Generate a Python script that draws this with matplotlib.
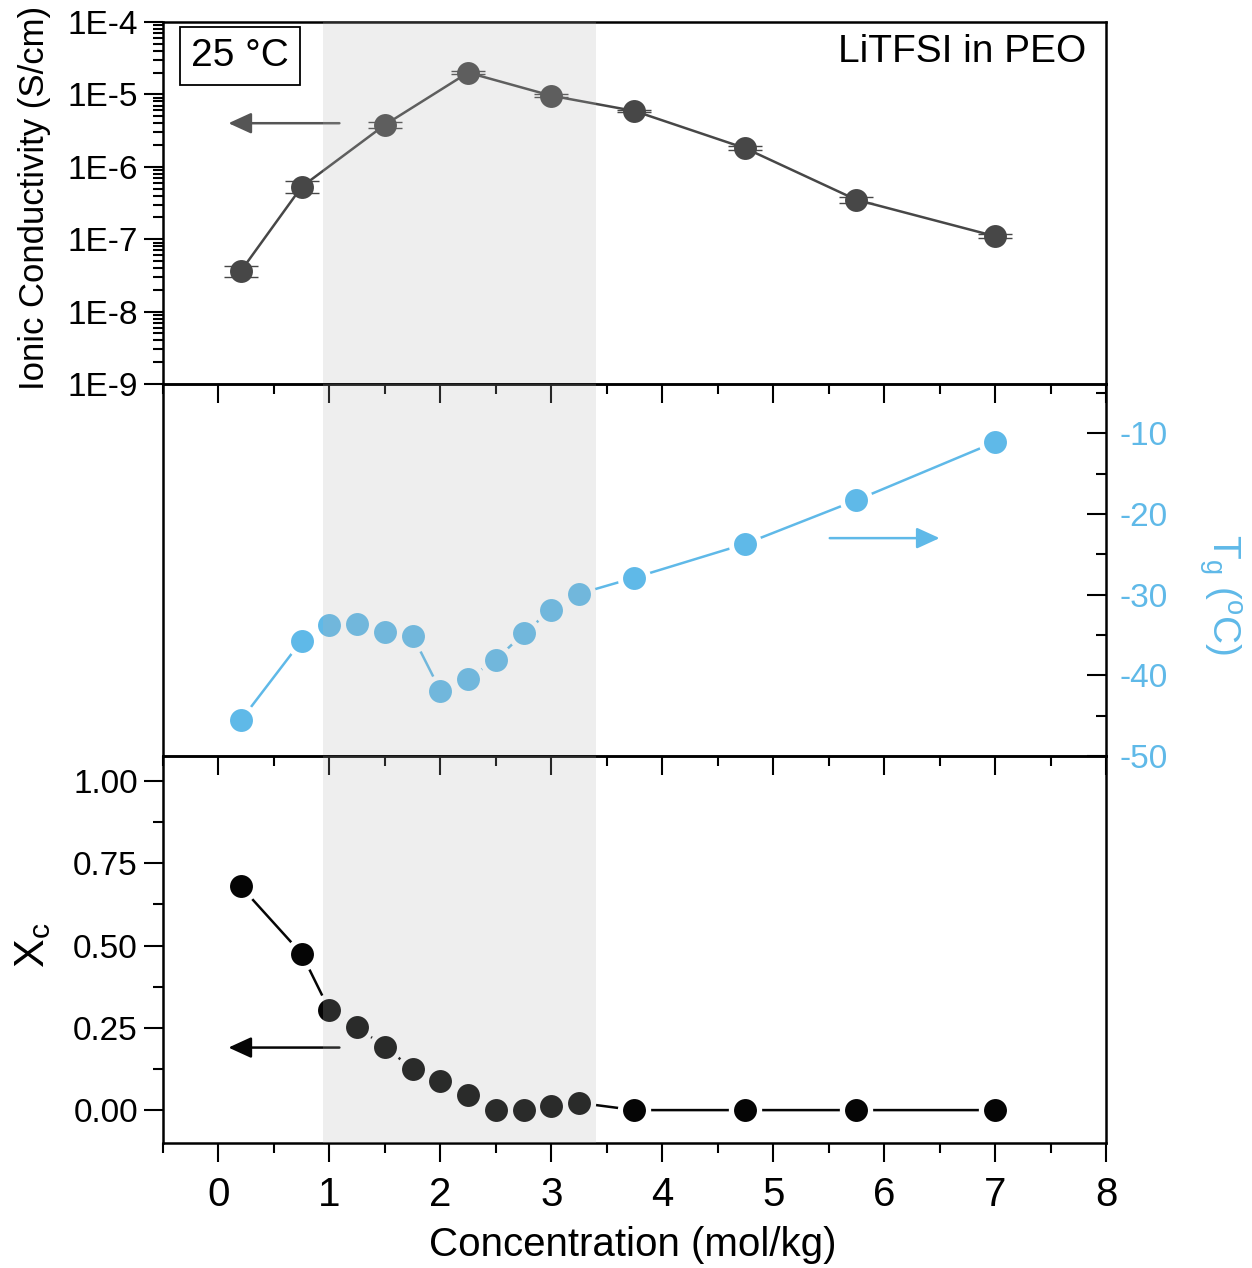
"""LiTFSI in PEO: conductivity, Tg and crystallinity versus salt concentration."""

import matplotlib.pyplot as plt
from matplotlib.ticker import MultipleLocator, FixedLocator, LogLocator, NullFormatter

plt.rcParams["font.family"] = ["Liberation Sans", "DejaVu Sans"]
plt.rcParams["axes.unicode_minus"] = False

# ionic conductivity at 25 C (S/cm), error given in decades
cond_conc = [0.2, 0.75, 1.5, 2.25, 3.0, 3.75, 4.75, 5.75, 7.0]
cond = [3.6e-8, 5.3e-7, 3.8e-6, 2.0e-5, 9.6e-6, 5.9e-6, 1.8e-6, 3.5e-7, 1.1e-7]
cond_err_dec = [0.08, 0.08, 0.04, 0.02, 0.02, 0.02, 0.03, 0.04, 0.03]

# glass transition temperature (C)
tg_conc = [0.2, 0.75, 1.0, 1.25, 1.5, 1.75, 2.0, 2.25, 2.5, 2.75, 3.0, 3.25,
           3.75, 4.75, 5.75, 7.0]
tg = [-45.6, -35.7, -33.8, -33.7, -34.6, -35.1, -41.9, -40.4, -38.1, -34.8,
      -31.9, -29.9, -27.9, -23.7, -18.3, -11.1]

# crystalline fraction
xc_conc = tg_conc
xc = [0.68, 0.475, 0.304, 0.252, 0.192, 0.125, 0.088, 0.045, 0.0, 0.0,
      0.013, 0.022, 0.0, 0.0, 0.0, 0.0]

shade = (0.94, 3.40)
x_ticks = [0, 1, 2, 3, 4, 5, 6, 7, 8]

GRAY = "#474747"
BLUE = "#5fb9e8"
BLACK = "#050505"

fig = plt.figure(figsize=(12.52, 12.68), dpi=100)
W, H = 1252, 1268
left, right = 163 / W, 1106 / W


def add_panel(top_px, bottom_px):
    ax = fig.add_axes([left, 1 - bottom_px / H, right - left, (bottom_px - top_px) / H])
    ax.patch.set_visible(False)
    for s in ax.spines.values():
        s.set_linewidth(1.8)
    ax.set_xlim(-0.5, 8)
    ax.xaxis.set_major_locator(FixedLocator(x_ticks))
    ax.xaxis.set_minor_locator(MultipleLocator(0.5))
    ax.tick_params(axis="x", which="both", direction="out", top=False,
                   bottom=True, labelbottom=False, width=1.5)
    ax.tick_params(axis="x", which="major", length=14)
    ax.tick_params(axis="x", which="minor", length=7)
    # shaded band sits on top of everything, like in the original figure
    ax.axvspan(*shade, color="#b2b4b2", alpha=0.22, lw=0, zorder=10)
    return ax


def gapped(ax, x, y, color, ms=16.5, gap=7.5):
    ax.plot(x, y, "-", color=color, lw=1.8, zorder=2)
    ax.plot(x, y, "o", ls="none", ms=ms + gap, mfc="white", mec="none", zorder=3)
    ax.plot(x, y, "o", ls="none", ms=ms, mfc=color, mec="none", zorder=4)


def arrow(ax, x0, x1, y, color):
    ax.annotate("", xy=(x1, y), xytext=(x0, y),
                arrowprops=dict(arrowstyle="-|>,head_length=0.7,head_width=0.32",
                                color=color, lw=1.8, mutation_scale=20,
                                shrinkA=0, shrinkB=0), zorder=5)


# ---- top: conductivity ----
ax1 = add_panel(22, 384)
ax1.set_yscale("log")
ax1.set_ylim(1e-9, 1e-4)
decades = [1e-9, 1e-8, 1e-7, 1e-6, 1e-5, 1e-4]
ax1.yaxis.set_major_locator(FixedLocator(decades))
ax1.set_yticklabels(["1E-9", "1E-8", "1E-7", "1E-6", "1E-5", "1E-4"])
ax1.yaxis.set_minor_locator(LogLocator(base=10, subs=range(2, 10), numticks=20))
ax1.yaxis.set_minor_formatter(NullFormatter())
ax1.tick_params(axis="y", which="both", direction="out", right=False,
                labelsize=24, pad=4, width=1.5)
ax1.tick_params(axis="y", which="major", length=14)
ax1.tick_params(axis="y", which="minor", length=7)

lo = [c - c * 10 ** (-e) for c, e in zip(cond, cond_err_dec)]
hi = [c * 10 ** e - c for c, e in zip(cond, cond_err_dec)]
ax1.plot(cond_conc, cond, "-", color=GRAY, lw=1.8, zorder=2)
ax1.errorbar(cond_conc, cond, yerr=[lo, hi], fmt="none", ecolor=GRAY,
             elinewidth=1.0, capsize=12, capthick=1.0, zorder=3)
ax1.plot(cond_conc, cond, "o", ls="none", ms=16.5, mfc=GRAY, mec="none", zorder=4)
arrow(ax1, 1.09, 0.09, 4.0e-6, "#555555")

ax1.text(0.0817, 0.906, "25 °C", transform=ax1.transAxes, fontsize=28,
         ha="center", va="center",
         bbox=dict(boxstyle="square,pad=0.28", fc="white", ec="black", lw=1.3))
ax1.text(0.979, 0.917, "LiTFSI in PEO", transform=ax1.transAxes, fontsize=28,
         ha="right", va="center")

# ---- middle: Tg ----
ax2 = add_panel(384, 756)
ax2.set_ylim(-50, -3.9)
ax2.yaxis.tick_right()
ax2.yaxis.set_major_locator(FixedLocator([-50, -40, -30, -20, -10]))
ax2.yaxis.set_minor_locator(MultipleLocator(5))
ax2.tick_params(axis="y", which="both", direction="in", left=False, right=True,
                labelsize=24, labelcolor=BLUE, pad=10, width=1.5)
ax2.tick_params(axis="y", which="major", length=14)
ax2.tick_params(axis="y", which="minor", length=7)
gapped(ax2, tg_conc, tg, BLUE)
arrow(ax2, 5.51, 6.5, -23.0, BLUE)

# ---- bottom: crystallinity ----
ax3 = add_panel(756, 1143)
ax3.set_ylim(-0.1, 1.076)
ax3.yaxis.set_major_locator(FixedLocator([0, 0.25, 0.5, 0.75, 1.0]))
ax3.yaxis.set_major_formatter(plt.FormatStrFormatter("%.2f"))
ax3.yaxis.set_minor_locator(MultipleLocator(0.125))
ax3.tick_params(axis="y", which="both", direction="out", right=False,
                labelsize=24, pad=4, width=1.5)
ax3.tick_params(axis="y", which="major", length=14)
ax3.tick_params(axis="y", which="minor", length=7)
ax3.tick_params(axis="x", which="both", labelbottom=True, labelsize=29, pad=10)
gapped(ax3, xc_conc, xc, BLACK)
arrow(ax3, 1.09, 0.09, 0.19, BLACK)

# axis titles
fig.text(35 / W, 1 - 198 / H, "Ionic Conductivity (S/cm)", rotation=90,
         ha="center", va="center", fontsize=25)
fig.text(33 / W, 1 - 945 / H, r"X$_\mathregular{c}$", rotation=90,
         ha="center", va="center", fontsize=31)
fig.text(1220 / W, 1 - 595 / H, r"T$_\mathregular{g}$ ($^\mathregular{o}$C)",
         rotation=270, ha="center", va="center", fontsize=28, color=BLUE)
fig.text(633 / W, 1 - 1245 / H, "Concentration (mol/kg)", ha="center",
         va="center", fontsize=29)

fig.savefig("out.png", dpi=100)
